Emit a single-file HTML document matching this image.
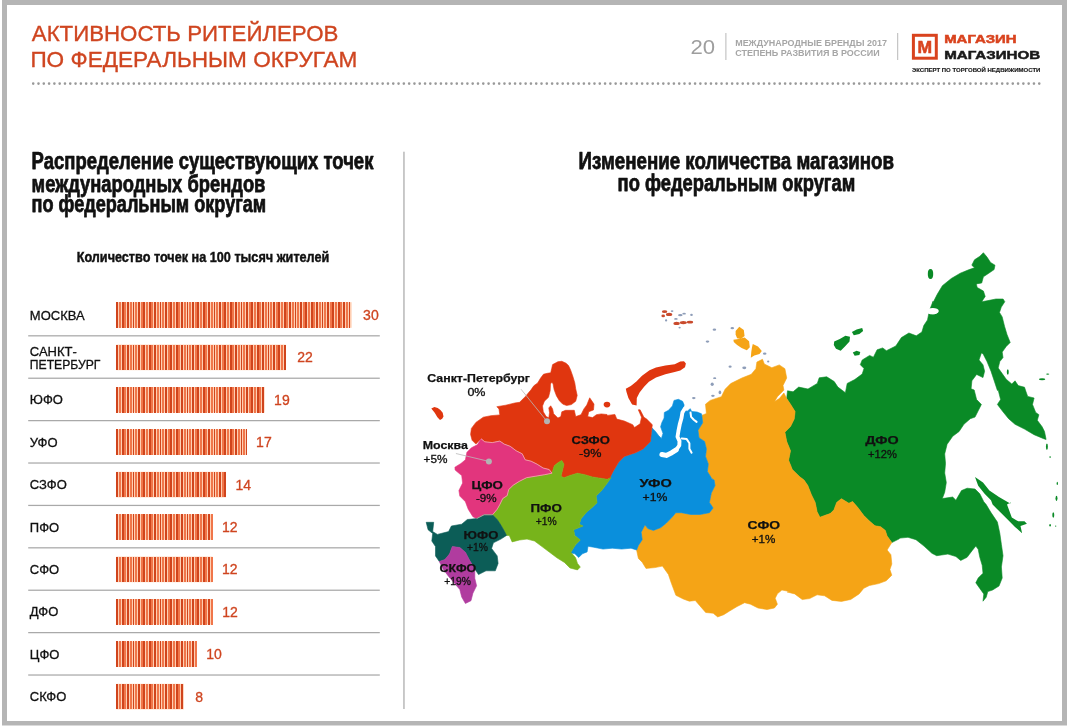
<!DOCTYPE html>
<html lang="ru"><head><meta charset="utf-8"><title>Активность ритейлеров по федеральным округам</title>
<style>
html,body{margin:0;padding:0;background:#fff;}
svg{display:block;font-family:"Liberation Sans","DejaVu Sans",sans-serif;}
</style></head><body>
<svg width="1071" height="727" viewBox="0 0 1071 727">
<rect x="0" y="0" width="1071" height="727" fill="#ffffff"/>
<path d="M2 0H1067V725.5H2Z M7 5V721H1062V5Z" fill="#b5b5b5" fill-rule="evenodd"/>
<text x="31.8" y="40.7" font-size="22.8" fill="#cf4520" font-weight="normal" text-anchor="start" textLength="306.6" lengthAdjust="spacingAndGlyphs" stroke="#cf4520" stroke-width="0.35">АКТИВНОСТЬ РИТЕЙЛЕРОВ</text>
<text x="30.4" y="66.7" font-size="22.8" fill="#cf4520" font-weight="normal" text-anchor="start" textLength="327" lengthAdjust="spacingAndGlyphs" stroke="#cf4520" stroke-width="0.35">ПО ФЕДЕРАЛЬНЫМ ОКРУГАМ</text>
<line x1="33.2" y1="83.6" x2="1041" y2="83.6" stroke="#999999" stroke-width="2.6" stroke-linecap="round" stroke-dasharray="0.01 5.285"/>
<text x="690.4" y="53.8" font-size="20" fill="#9e9e9e" font-weight="normal" text-anchor="start" textLength="24.6" lengthAdjust="spacingAndGlyphs" >20</text>
<rect x="725.4" y="33" width="1" height="27" fill="#b8b8b8"/>
<text x="735.2" y="45.5" font-size="8.9" fill="#a6a6a6" font-weight="bold" text-anchor="start" textLength="151.7" lengthAdjust="spacingAndGlyphs" >МЕЖДУНАРОДНЫЕ БРЕНДЫ 2017</text>
<text x="735.2" y="55.8" font-size="8.9" fill="#a6a6a6" font-weight="bold" text-anchor="start" textLength="144.5" lengthAdjust="spacingAndGlyphs" >СТЕПЕНЬ РАЗВИТИЯ В РОССИИ</text>
<rect x="897.2" y="33" width="1" height="27" fill="#b8b8b8"/>
<rect x="913.4" y="35.3" width="22.9" height="22.9" fill="none" stroke="#d9431e" stroke-width="3"/>
<text x="917.6" y="52.5" font-size="15.6" fill="#d9431e" font-weight="bold" text-anchor="start" textLength="14.6" lengthAdjust="spacingAndGlyphs" stroke="#d9431e" stroke-width="0.5">М</text>
<text x="944.2" y="43.3" font-size="11.3" fill="#d9431e" font-weight="bold" text-anchor="start" textLength="72.4" lengthAdjust="spacingAndGlyphs" stroke="#d9431e" stroke-width="0.5">МАГАЗИН</text>
<text x="944.2" y="59.4" font-size="11.6" fill="#1a1a1a" font-weight="bold" text-anchor="start" textLength="96" lengthAdjust="spacingAndGlyphs" stroke="#1a1a1a" stroke-width="0.5">МАГАЗИНОВ</text>
<text x="912" y="72.1" font-size="5.3" fill="#1a1a1a" font-weight="bold" text-anchor="start" textLength="128.4" lengthAdjust="spacingAndGlyphs" stroke="#1a1a1a" stroke-width="0.15">ЭКСПЕРТ ПО ТОРГОВОЙ НЕДВИЖИМОСТИ</text>
<text x="31.6" y="169.2" font-size="23.2" fill="#111" font-weight="bold" text-anchor="start" textLength="341.8" lengthAdjust="spacingAndGlyphs" stroke="#111" stroke-width="0.75" stroke-linejoin="round">Распределение существующих точек</text>
<text x="31.6" y="191.6" font-size="23.2" fill="#111" font-weight="bold" text-anchor="start" textLength="233.8" lengthAdjust="spacingAndGlyphs" stroke="#111" stroke-width="0.75" stroke-linejoin="round">международных брендов</text>
<text x="31.6" y="212.4" font-size="23.2" fill="#111" font-weight="bold" text-anchor="start" textLength="234.6" lengthAdjust="spacingAndGlyphs" stroke="#111" stroke-width="0.75" stroke-linejoin="round">по федеральным округам</text>
<text x="76.7" y="261.5" font-size="14.6" fill="#111" font-weight="bold" text-anchor="start" textLength="252.6" lengthAdjust="spacingAndGlyphs" stroke="#111" stroke-width="0.45">Количество точек на 100 тысяч жителей</text>
<defs><pattern id="st" width="5.4" height="30" patternUnits="userSpaceOnUse" x="116.3"><rect width="5.4" height="30" fill="#ffc7ab"/><rect width="2.2" height="30" fill="#d6421a"/><rect x="2.7" width="2.2" height="30" fill="#ec6a3c"/></pattern></defs>
<rect x="116.3" y="302.2" width="235.3" height="25.6" fill="#ffcfb3"/>
<path d="M116.30 302.2h1.95v25.6h-1.95zM121.70 302.2h1.95v25.6h-1.95zM127.10 302.2h1.95v25.6h-1.95zM132.50 302.2h1.95v25.6h-1.95zM137.90 302.2h1.95v25.6h-1.95zM143.30 302.2h1.95v25.6h-1.95zM148.70 302.2h1.95v25.6h-1.95zM154.10 302.2h1.95v25.6h-1.95zM159.50 302.2h1.95v25.6h-1.95zM164.90 302.2h1.95v25.6h-1.95zM170.30 302.2h1.95v25.6h-1.95zM175.70 302.2h1.95v25.6h-1.95zM181.10 302.2h1.95v25.6h-1.95zM186.50 302.2h1.95v25.6h-1.95zM191.90 302.2h1.95v25.6h-1.95zM197.30 302.2h1.95v25.6h-1.95zM202.70 302.2h1.95v25.6h-1.95zM208.10 302.2h1.95v25.6h-1.95zM213.50 302.2h1.95v25.6h-1.95zM218.90 302.2h1.95v25.6h-1.95zM224.30 302.2h1.95v25.6h-1.95zM229.70 302.2h1.95v25.6h-1.95zM235.10 302.2h1.95v25.6h-1.95zM240.50 302.2h1.95v25.6h-1.95zM245.90 302.2h1.95v25.6h-1.95zM251.30 302.2h1.95v25.6h-1.95zM256.70 302.2h1.95v25.6h-1.95zM262.10 302.2h1.95v25.6h-1.95zM267.50 302.2h1.95v25.6h-1.95zM272.90 302.2h1.95v25.6h-1.95zM278.30 302.2h1.95v25.6h-1.95zM283.70 302.2h1.95v25.6h-1.95zM289.10 302.2h1.95v25.6h-1.95zM294.50 302.2h1.95v25.6h-1.95zM299.90 302.2h1.95v25.6h-1.95zM305.30 302.2h1.95v25.6h-1.95zM310.70 302.2h1.95v25.6h-1.95zM316.10 302.2h1.95v25.6h-1.95zM321.50 302.2h1.95v25.6h-1.95zM326.90 302.2h1.95v25.6h-1.95zM332.30 302.2h1.95v25.6h-1.95zM337.70 302.2h1.95v25.6h-1.95zM343.10 302.2h1.95v25.6h-1.95zM348.50 302.2h1.95v25.6h-1.95z" fill="#d0441c" shape-rendering="crispEdges"/>
<path d="M119.00 302.2h1.95v25.6h-1.95zM124.40 302.2h1.95v25.6h-1.95zM129.80 302.2h1.95v25.6h-1.95zM135.20 302.2h1.95v25.6h-1.95zM140.60 302.2h1.95v25.6h-1.95zM146.00 302.2h1.95v25.6h-1.95zM151.40 302.2h1.95v25.6h-1.95zM156.80 302.2h1.95v25.6h-1.95zM162.20 302.2h1.95v25.6h-1.95zM167.60 302.2h1.95v25.6h-1.95zM173.00 302.2h1.95v25.6h-1.95zM178.40 302.2h1.95v25.6h-1.95zM183.80 302.2h1.95v25.6h-1.95zM189.20 302.2h1.95v25.6h-1.95zM194.60 302.2h1.95v25.6h-1.95zM200.00 302.2h1.95v25.6h-1.95zM205.40 302.2h1.95v25.6h-1.95zM210.80 302.2h1.95v25.6h-1.95zM216.20 302.2h1.95v25.6h-1.95zM221.60 302.2h1.95v25.6h-1.95zM227.00 302.2h1.95v25.6h-1.95zM232.40 302.2h1.95v25.6h-1.95zM237.80 302.2h1.95v25.6h-1.95zM243.20 302.2h1.95v25.6h-1.95zM248.60 302.2h1.95v25.6h-1.95zM254.00 302.2h1.95v25.6h-1.95zM259.40 302.2h1.95v25.6h-1.95zM264.80 302.2h1.95v25.6h-1.95zM270.20 302.2h1.95v25.6h-1.95zM275.60 302.2h1.95v25.6h-1.95zM281.00 302.2h1.95v25.6h-1.95zM286.40 302.2h1.95v25.6h-1.95zM291.80 302.2h1.95v25.6h-1.95zM297.20 302.2h1.95v25.6h-1.95zM302.60 302.2h1.95v25.6h-1.95zM308.00 302.2h1.95v25.6h-1.95zM313.40 302.2h1.95v25.6h-1.95zM318.80 302.2h1.95v25.6h-1.95zM324.20 302.2h1.95v25.6h-1.95zM329.60 302.2h1.95v25.6h-1.95zM335.00 302.2h1.95v25.6h-1.95zM340.40 302.2h1.95v25.6h-1.95zM345.80 302.2h1.95v25.6h-1.95z" fill="#f0764a" shape-rendering="crispEdges"/>
<rect x="28.2" y="335.2" width="351.6" height="1.25" fill="#a9a9a9"/>
<text x="29.8" y="319.6" font-size="13" fill="#111" font-weight="normal" text-anchor="start" stroke="#111" stroke-width="0.3">МОСКВА</text>
<text x="363.1" y="320" font-size="14" fill="#cf4520" font-weight="normal" text-anchor="start" stroke="#cf4520" stroke-width="0.3">30</text>
<rect x="116.3" y="344.6" width="169.5" height="25.6" fill="#ffcfb3"/>
<path d="M116.30 344.6h1.95v25.6h-1.95zM121.70 344.6h1.95v25.6h-1.95zM127.10 344.6h1.95v25.6h-1.95zM132.50 344.6h1.95v25.6h-1.95zM137.90 344.6h1.95v25.6h-1.95zM143.30 344.6h1.95v25.6h-1.95zM148.70 344.6h1.95v25.6h-1.95zM154.10 344.6h1.95v25.6h-1.95zM159.50 344.6h1.95v25.6h-1.95zM164.90 344.6h1.95v25.6h-1.95zM170.30 344.6h1.95v25.6h-1.95zM175.70 344.6h1.95v25.6h-1.95zM181.10 344.6h1.95v25.6h-1.95zM186.50 344.6h1.95v25.6h-1.95zM191.90 344.6h1.95v25.6h-1.95zM197.30 344.6h1.95v25.6h-1.95zM202.70 344.6h1.95v25.6h-1.95zM208.10 344.6h1.95v25.6h-1.95zM213.50 344.6h1.95v25.6h-1.95zM218.90 344.6h1.95v25.6h-1.95zM224.30 344.6h1.95v25.6h-1.95zM229.70 344.6h1.95v25.6h-1.95zM235.10 344.6h1.95v25.6h-1.95zM240.50 344.6h1.95v25.6h-1.95zM245.90 344.6h1.95v25.6h-1.95zM251.30 344.6h1.95v25.6h-1.95zM256.70 344.6h1.95v25.6h-1.95zM262.10 344.6h1.95v25.6h-1.95zM267.50 344.6h1.95v25.6h-1.95zM272.90 344.6h1.95v25.6h-1.95zM278.30 344.6h1.95v25.6h-1.95zM283.70 344.6h1.95v25.6h-1.95z" fill="#d0441c" shape-rendering="crispEdges"/>
<path d="M119.00 344.6h1.95v25.6h-1.95zM124.40 344.6h1.95v25.6h-1.95zM129.80 344.6h1.95v25.6h-1.95zM135.20 344.6h1.95v25.6h-1.95zM140.60 344.6h1.95v25.6h-1.95zM146.00 344.6h1.95v25.6h-1.95zM151.40 344.6h1.95v25.6h-1.95zM156.80 344.6h1.95v25.6h-1.95zM162.20 344.6h1.95v25.6h-1.95zM167.60 344.6h1.95v25.6h-1.95zM173.00 344.6h1.95v25.6h-1.95zM178.40 344.6h1.95v25.6h-1.95zM183.80 344.6h1.95v25.6h-1.95zM189.20 344.6h1.95v25.6h-1.95zM194.60 344.6h1.95v25.6h-1.95zM200.00 344.6h1.95v25.6h-1.95zM205.40 344.6h1.95v25.6h-1.95zM210.80 344.6h1.95v25.6h-1.95zM216.20 344.6h1.95v25.6h-1.95zM221.60 344.6h1.95v25.6h-1.95zM227.00 344.6h1.95v25.6h-1.95zM232.40 344.6h1.95v25.6h-1.95zM237.80 344.6h1.95v25.6h-1.95zM243.20 344.6h1.95v25.6h-1.95zM248.60 344.6h1.95v25.6h-1.95zM254.00 344.6h1.95v25.6h-1.95zM259.40 344.6h1.95v25.6h-1.95zM264.80 344.6h1.95v25.6h-1.95zM270.20 344.6h1.95v25.6h-1.95zM275.60 344.6h1.95v25.6h-1.95zM281.00 344.6h1.95v25.6h-1.95z" fill="#f0764a" shape-rendering="crispEdges"/>
<rect x="28.2" y="377.6" width="351.6" height="1.25" fill="#a9a9a9"/>
<text x="29.8" y="356" font-size="13" fill="#111" font-weight="normal" text-anchor="start" stroke="#111" stroke-width="0.3">САНКТ-</text>
<text x="29.8" y="369" font-size="13" fill="#111" font-weight="normal" text-anchor="start" textLength="70.6" lengthAdjust="spacingAndGlyphs" stroke="#111" stroke-width="0.3">ПЕТЕРБУРГ</text>
<text x="297.3" y="362.4" font-size="14" fill="#cf4520" font-weight="normal" text-anchor="start" stroke="#cf4520" stroke-width="0.3">22</text>
<rect x="116.3" y="387" width="148.3" height="25.6" fill="#ffcfb3"/>
<path d="M116.30 387h1.95v25.6h-1.95zM121.70 387h1.95v25.6h-1.95zM127.10 387h1.95v25.6h-1.95zM132.50 387h1.95v25.6h-1.95zM137.90 387h1.95v25.6h-1.95zM143.30 387h1.95v25.6h-1.95zM148.70 387h1.95v25.6h-1.95zM154.10 387h1.95v25.6h-1.95zM159.50 387h1.95v25.6h-1.95zM164.90 387h1.95v25.6h-1.95zM170.30 387h1.95v25.6h-1.95zM175.70 387h1.95v25.6h-1.95zM181.10 387h1.95v25.6h-1.95zM186.50 387h1.95v25.6h-1.95zM191.90 387h1.95v25.6h-1.95zM197.30 387h1.95v25.6h-1.95zM202.70 387h1.95v25.6h-1.95zM208.10 387h1.95v25.6h-1.95zM213.50 387h1.95v25.6h-1.95zM218.90 387h1.95v25.6h-1.95zM224.30 387h1.95v25.6h-1.95zM229.70 387h1.95v25.6h-1.95zM235.10 387h1.95v25.6h-1.95zM240.50 387h1.95v25.6h-1.95zM245.90 387h1.95v25.6h-1.95zM251.30 387h1.95v25.6h-1.95zM256.70 387h1.95v25.6h-1.95zM262.10 387h1.95v25.6h-1.95z" fill="#d0441c" shape-rendering="crispEdges"/>
<path d="M119.00 387h1.95v25.6h-1.95zM124.40 387h1.95v25.6h-1.95zM129.80 387h1.95v25.6h-1.95zM135.20 387h1.95v25.6h-1.95zM140.60 387h1.95v25.6h-1.95zM146.00 387h1.95v25.6h-1.95zM151.40 387h1.95v25.6h-1.95zM156.80 387h1.95v25.6h-1.95zM162.20 387h1.95v25.6h-1.95zM167.60 387h1.95v25.6h-1.95zM173.00 387h1.95v25.6h-1.95zM178.40 387h1.95v25.6h-1.95zM183.80 387h1.95v25.6h-1.95zM189.20 387h1.95v25.6h-1.95zM194.60 387h1.95v25.6h-1.95zM200.00 387h1.95v25.6h-1.95zM205.40 387h1.95v25.6h-1.95zM210.80 387h1.95v25.6h-1.95zM216.20 387h1.95v25.6h-1.95zM221.60 387h1.95v25.6h-1.95zM227.00 387h1.95v25.6h-1.95zM232.40 387h1.95v25.6h-1.95zM237.80 387h1.95v25.6h-1.95zM243.20 387h1.95v25.6h-1.95zM248.60 387h1.95v25.6h-1.95zM254.00 387h1.95v25.6h-1.95zM259.40 387h1.95v25.6h-1.95z" fill="#f0764a" shape-rendering="crispEdges"/>
<rect x="28.2" y="420" width="351.6" height="1.25" fill="#a9a9a9"/>
<text x="29.8" y="404.4" font-size="13" fill="#111" font-weight="normal" text-anchor="start" stroke="#111" stroke-width="0.3">ЮФО</text>
<text x="274.1" y="404.8" font-size="14" fill="#cf4520" font-weight="normal" text-anchor="start" stroke="#cf4520" stroke-width="0.3">19</text>
<rect x="116.3" y="429.4" width="130.3" height="25.6" fill="#ffcfb3"/>
<path d="M116.30 429.4h1.95v25.6h-1.95zM121.70 429.4h1.95v25.6h-1.95zM127.10 429.4h1.95v25.6h-1.95zM132.50 429.4h1.95v25.6h-1.95zM137.90 429.4h1.95v25.6h-1.95zM143.30 429.4h1.95v25.6h-1.95zM148.70 429.4h1.95v25.6h-1.95zM154.10 429.4h1.95v25.6h-1.95zM159.50 429.4h1.95v25.6h-1.95zM164.90 429.4h1.95v25.6h-1.95zM170.30 429.4h1.95v25.6h-1.95zM175.70 429.4h1.95v25.6h-1.95zM181.10 429.4h1.95v25.6h-1.95zM186.50 429.4h1.95v25.6h-1.95zM191.90 429.4h1.95v25.6h-1.95zM197.30 429.4h1.95v25.6h-1.95zM202.70 429.4h1.95v25.6h-1.95zM208.10 429.4h1.95v25.6h-1.95zM213.50 429.4h1.95v25.6h-1.95zM218.90 429.4h1.95v25.6h-1.95zM224.30 429.4h1.95v25.6h-1.95zM229.70 429.4h1.95v25.6h-1.95zM235.10 429.4h1.95v25.6h-1.95zM240.50 429.4h1.95v25.6h-1.95zM245.90 429.4h0.70v25.6h-0.70z" fill="#d0441c" shape-rendering="crispEdges"/>
<path d="M119.00 429.4h1.95v25.6h-1.95zM124.40 429.4h1.95v25.6h-1.95zM129.80 429.4h1.95v25.6h-1.95zM135.20 429.4h1.95v25.6h-1.95zM140.60 429.4h1.95v25.6h-1.95zM146.00 429.4h1.95v25.6h-1.95zM151.40 429.4h1.95v25.6h-1.95zM156.80 429.4h1.95v25.6h-1.95zM162.20 429.4h1.95v25.6h-1.95zM167.60 429.4h1.95v25.6h-1.95zM173.00 429.4h1.95v25.6h-1.95zM178.40 429.4h1.95v25.6h-1.95zM183.80 429.4h1.95v25.6h-1.95zM189.20 429.4h1.95v25.6h-1.95zM194.60 429.4h1.95v25.6h-1.95zM200.00 429.4h1.95v25.6h-1.95zM205.40 429.4h1.95v25.6h-1.95zM210.80 429.4h1.95v25.6h-1.95zM216.20 429.4h1.95v25.6h-1.95zM221.60 429.4h1.95v25.6h-1.95zM227.00 429.4h1.95v25.6h-1.95zM232.40 429.4h1.95v25.6h-1.95zM237.80 429.4h1.95v25.6h-1.95zM243.20 429.4h1.95v25.6h-1.95z" fill="#f0764a" shape-rendering="crispEdges"/>
<rect x="28.2" y="462.4" width="351.6" height="1.25" fill="#a9a9a9"/>
<text x="29.8" y="446.8" font-size="13" fill="#111" font-weight="normal" text-anchor="start" stroke="#111" stroke-width="0.3">УФО</text>
<text x="256.1" y="447.2" font-size="14" fill="#cf4520" font-weight="normal" text-anchor="start" stroke="#cf4520" stroke-width="0.3">17</text>
<rect x="116.3" y="471.8" width="109.7" height="25.6" fill="#ffcfb3"/>
<path d="M116.30 471.8h1.95v25.6h-1.95zM121.70 471.8h1.95v25.6h-1.95zM127.10 471.8h1.95v25.6h-1.95zM132.50 471.8h1.95v25.6h-1.95zM137.90 471.8h1.95v25.6h-1.95zM143.30 471.8h1.95v25.6h-1.95zM148.70 471.8h1.95v25.6h-1.95zM154.10 471.8h1.95v25.6h-1.95zM159.50 471.8h1.95v25.6h-1.95zM164.90 471.8h1.95v25.6h-1.95zM170.30 471.8h1.95v25.6h-1.95zM175.70 471.8h1.95v25.6h-1.95zM181.10 471.8h1.95v25.6h-1.95zM186.50 471.8h1.95v25.6h-1.95zM191.90 471.8h1.95v25.6h-1.95zM197.30 471.8h1.95v25.6h-1.95zM202.70 471.8h1.95v25.6h-1.95zM208.10 471.8h1.95v25.6h-1.95zM213.50 471.8h1.95v25.6h-1.95zM218.90 471.8h1.95v25.6h-1.95zM224.30 471.8h1.70v25.6h-1.70z" fill="#d0441c" shape-rendering="crispEdges"/>
<path d="M119.00 471.8h1.95v25.6h-1.95zM124.40 471.8h1.95v25.6h-1.95zM129.80 471.8h1.95v25.6h-1.95zM135.20 471.8h1.95v25.6h-1.95zM140.60 471.8h1.95v25.6h-1.95zM146.00 471.8h1.95v25.6h-1.95zM151.40 471.8h1.95v25.6h-1.95zM156.80 471.8h1.95v25.6h-1.95zM162.20 471.8h1.95v25.6h-1.95zM167.60 471.8h1.95v25.6h-1.95zM173.00 471.8h1.95v25.6h-1.95zM178.40 471.8h1.95v25.6h-1.95zM183.80 471.8h1.95v25.6h-1.95zM189.20 471.8h1.95v25.6h-1.95zM194.60 471.8h1.95v25.6h-1.95zM200.00 471.8h1.95v25.6h-1.95zM205.40 471.8h1.95v25.6h-1.95zM210.80 471.8h1.95v25.6h-1.95zM216.20 471.8h1.95v25.6h-1.95zM221.60 471.8h1.95v25.6h-1.95z" fill="#f0764a" shape-rendering="crispEdges"/>
<rect x="28.2" y="504.8" width="351.6" height="1.25" fill="#a9a9a9"/>
<text x="29.8" y="489.2" font-size="13" fill="#111" font-weight="normal" text-anchor="start" stroke="#111" stroke-width="0.3">СЗФО</text>
<text x="235.5" y="489.6" font-size="14" fill="#cf4520" font-weight="normal" text-anchor="start" stroke="#cf4520" stroke-width="0.3">14</text>
<rect x="116.3" y="514.2" width="96.2" height="25.6" fill="#ffcfb3"/>
<path d="M116.30 514.2h1.95v25.6h-1.95zM121.70 514.2h1.95v25.6h-1.95zM127.10 514.2h1.95v25.6h-1.95zM132.50 514.2h1.95v25.6h-1.95zM137.90 514.2h1.95v25.6h-1.95zM143.30 514.2h1.95v25.6h-1.95zM148.70 514.2h1.95v25.6h-1.95zM154.10 514.2h1.95v25.6h-1.95zM159.50 514.2h1.95v25.6h-1.95zM164.90 514.2h1.95v25.6h-1.95zM170.30 514.2h1.95v25.6h-1.95zM175.70 514.2h1.95v25.6h-1.95zM181.10 514.2h1.95v25.6h-1.95zM186.50 514.2h1.95v25.6h-1.95zM191.90 514.2h1.95v25.6h-1.95zM197.30 514.2h1.95v25.6h-1.95zM202.70 514.2h1.95v25.6h-1.95zM208.10 514.2h1.95v25.6h-1.95z" fill="#d0441c" shape-rendering="crispEdges"/>
<path d="M119.00 514.2h1.95v25.6h-1.95zM124.40 514.2h1.95v25.6h-1.95zM129.80 514.2h1.95v25.6h-1.95zM135.20 514.2h1.95v25.6h-1.95zM140.60 514.2h1.95v25.6h-1.95zM146.00 514.2h1.95v25.6h-1.95zM151.40 514.2h1.95v25.6h-1.95zM156.80 514.2h1.95v25.6h-1.95zM162.20 514.2h1.95v25.6h-1.95zM167.60 514.2h1.95v25.6h-1.95zM173.00 514.2h1.95v25.6h-1.95zM178.40 514.2h1.95v25.6h-1.95zM183.80 514.2h1.95v25.6h-1.95zM189.20 514.2h1.95v25.6h-1.95zM194.60 514.2h1.95v25.6h-1.95zM200.00 514.2h1.95v25.6h-1.95zM205.40 514.2h1.95v25.6h-1.95zM210.80 514.2h1.70v25.6h-1.70z" fill="#f0764a" shape-rendering="crispEdges"/>
<rect x="28.2" y="547.2" width="351.6" height="1.25" fill="#a9a9a9"/>
<text x="29.8" y="531.6" font-size="13" fill="#111" font-weight="normal" text-anchor="start" stroke="#111" stroke-width="0.3">ПФО</text>
<text x="222" y="532" font-size="14" fill="#cf4520" font-weight="normal" text-anchor="start" stroke="#cf4520" stroke-width="0.3">12</text>
<rect x="116.3" y="556.6" width="96.2" height="25.6" fill="#ffcfb3"/>
<path d="M116.30 556.6h1.95v25.6h-1.95zM121.70 556.6h1.95v25.6h-1.95zM127.10 556.6h1.95v25.6h-1.95zM132.50 556.6h1.95v25.6h-1.95zM137.90 556.6h1.95v25.6h-1.95zM143.30 556.6h1.95v25.6h-1.95zM148.70 556.6h1.95v25.6h-1.95zM154.10 556.6h1.95v25.6h-1.95zM159.50 556.6h1.95v25.6h-1.95zM164.90 556.6h1.95v25.6h-1.95zM170.30 556.6h1.95v25.6h-1.95zM175.70 556.6h1.95v25.6h-1.95zM181.10 556.6h1.95v25.6h-1.95zM186.50 556.6h1.95v25.6h-1.95zM191.90 556.6h1.95v25.6h-1.95zM197.30 556.6h1.95v25.6h-1.95zM202.70 556.6h1.95v25.6h-1.95zM208.10 556.6h1.95v25.6h-1.95z" fill="#d0441c" shape-rendering="crispEdges"/>
<path d="M119.00 556.6h1.95v25.6h-1.95zM124.40 556.6h1.95v25.6h-1.95zM129.80 556.6h1.95v25.6h-1.95zM135.20 556.6h1.95v25.6h-1.95zM140.60 556.6h1.95v25.6h-1.95zM146.00 556.6h1.95v25.6h-1.95zM151.40 556.6h1.95v25.6h-1.95zM156.80 556.6h1.95v25.6h-1.95zM162.20 556.6h1.95v25.6h-1.95zM167.60 556.6h1.95v25.6h-1.95zM173.00 556.6h1.95v25.6h-1.95zM178.40 556.6h1.95v25.6h-1.95zM183.80 556.6h1.95v25.6h-1.95zM189.20 556.6h1.95v25.6h-1.95zM194.60 556.6h1.95v25.6h-1.95zM200.00 556.6h1.95v25.6h-1.95zM205.40 556.6h1.95v25.6h-1.95zM210.80 556.6h1.70v25.6h-1.70z" fill="#f0764a" shape-rendering="crispEdges"/>
<rect x="28.2" y="589.6" width="351.6" height="1.25" fill="#a9a9a9"/>
<text x="29.8" y="574" font-size="13" fill="#111" font-weight="normal" text-anchor="start" stroke="#111" stroke-width="0.3">СФО</text>
<text x="222" y="574.4" font-size="14" fill="#cf4520" font-weight="normal" text-anchor="start" stroke="#cf4520" stroke-width="0.3">12</text>
<rect x="116.3" y="599" width="96.5" height="25.6" fill="#ffcfb3"/>
<path d="M116.30 599h1.95v25.6h-1.95zM121.70 599h1.95v25.6h-1.95zM127.10 599h1.95v25.6h-1.95zM132.50 599h1.95v25.6h-1.95zM137.90 599h1.95v25.6h-1.95zM143.30 599h1.95v25.6h-1.95zM148.70 599h1.95v25.6h-1.95zM154.10 599h1.95v25.6h-1.95zM159.50 599h1.95v25.6h-1.95zM164.90 599h1.95v25.6h-1.95zM170.30 599h1.95v25.6h-1.95zM175.70 599h1.95v25.6h-1.95zM181.10 599h1.95v25.6h-1.95zM186.50 599h1.95v25.6h-1.95zM191.90 599h1.95v25.6h-1.95zM197.30 599h1.95v25.6h-1.95zM202.70 599h1.95v25.6h-1.95zM208.10 599h1.95v25.6h-1.95z" fill="#d0441c" shape-rendering="crispEdges"/>
<path d="M119.00 599h1.95v25.6h-1.95zM124.40 599h1.95v25.6h-1.95zM129.80 599h1.95v25.6h-1.95zM135.20 599h1.95v25.6h-1.95zM140.60 599h1.95v25.6h-1.95zM146.00 599h1.95v25.6h-1.95zM151.40 599h1.95v25.6h-1.95zM156.80 599h1.95v25.6h-1.95zM162.20 599h1.95v25.6h-1.95zM167.60 599h1.95v25.6h-1.95zM173.00 599h1.95v25.6h-1.95zM178.40 599h1.95v25.6h-1.95zM183.80 599h1.95v25.6h-1.95zM189.20 599h1.95v25.6h-1.95zM194.60 599h1.95v25.6h-1.95zM200.00 599h1.95v25.6h-1.95zM205.40 599h1.95v25.6h-1.95zM210.80 599h1.95v25.6h-1.95z" fill="#f0764a" shape-rendering="crispEdges"/>
<rect x="28.2" y="632" width="351.6" height="1.25" fill="#a9a9a9"/>
<text x="29.8" y="616.4" font-size="13" fill="#111" font-weight="normal" text-anchor="start" stroke="#111" stroke-width="0.3">ДФО</text>
<text x="222.3" y="616.8" font-size="14" fill="#cf4520" font-weight="normal" text-anchor="start" stroke="#cf4520" stroke-width="0.3">12</text>
<rect x="116.3" y="641.4" width="80.5" height="25.6" fill="#ffcfb3"/>
<path d="M116.30 641.4h1.95v25.6h-1.95zM121.70 641.4h1.95v25.6h-1.95zM127.10 641.4h1.95v25.6h-1.95zM132.50 641.4h1.95v25.6h-1.95zM137.90 641.4h1.95v25.6h-1.95zM143.30 641.4h1.95v25.6h-1.95zM148.70 641.4h1.95v25.6h-1.95zM154.10 641.4h1.95v25.6h-1.95zM159.50 641.4h1.95v25.6h-1.95zM164.90 641.4h1.95v25.6h-1.95zM170.30 641.4h1.95v25.6h-1.95zM175.70 641.4h1.95v25.6h-1.95zM181.10 641.4h1.95v25.6h-1.95zM186.50 641.4h1.95v25.6h-1.95zM191.90 641.4h1.95v25.6h-1.95z" fill="#d0441c" shape-rendering="crispEdges"/>
<path d="M119.00 641.4h1.95v25.6h-1.95zM124.40 641.4h1.95v25.6h-1.95zM129.80 641.4h1.95v25.6h-1.95zM135.20 641.4h1.95v25.6h-1.95zM140.60 641.4h1.95v25.6h-1.95zM146.00 641.4h1.95v25.6h-1.95zM151.40 641.4h1.95v25.6h-1.95zM156.80 641.4h1.95v25.6h-1.95zM162.20 641.4h1.95v25.6h-1.95zM167.60 641.4h1.95v25.6h-1.95zM173.00 641.4h1.95v25.6h-1.95zM178.40 641.4h1.95v25.6h-1.95zM183.80 641.4h1.95v25.6h-1.95zM189.20 641.4h1.95v25.6h-1.95zM194.60 641.4h1.95v25.6h-1.95z" fill="#f0764a" shape-rendering="crispEdges"/>
<rect x="28.2" y="674.4" width="351.6" height="1.25" fill="#a9a9a9"/>
<text x="29.8" y="658.8" font-size="13" fill="#111" font-weight="normal" text-anchor="start" stroke="#111" stroke-width="0.3">ЦФО</text>
<text x="206.3" y="659.2" font-size="14" fill="#cf4520" font-weight="normal" text-anchor="start" stroke="#cf4520" stroke-width="0.3">10</text>
<rect x="116.3" y="683.8" width="67.5" height="25.6" fill="#ffcfb3"/>
<path d="M116.30 683.8h1.95v25.6h-1.95zM121.70 683.8h1.95v25.6h-1.95zM127.10 683.8h1.95v25.6h-1.95zM132.50 683.8h1.95v25.6h-1.95zM137.90 683.8h1.95v25.6h-1.95zM143.30 683.8h1.95v25.6h-1.95zM148.70 683.8h1.95v25.6h-1.95zM154.10 683.8h1.95v25.6h-1.95zM159.50 683.8h1.95v25.6h-1.95zM164.90 683.8h1.95v25.6h-1.95zM170.30 683.8h1.95v25.6h-1.95zM175.70 683.8h1.95v25.6h-1.95zM181.10 683.8h1.95v25.6h-1.95z" fill="#d0441c" shape-rendering="crispEdges"/>
<path d="M119.00 683.8h1.95v25.6h-1.95zM124.40 683.8h1.95v25.6h-1.95zM129.80 683.8h1.95v25.6h-1.95zM135.20 683.8h1.95v25.6h-1.95zM140.60 683.8h1.95v25.6h-1.95zM146.00 683.8h1.95v25.6h-1.95zM151.40 683.8h1.95v25.6h-1.95zM156.80 683.8h1.95v25.6h-1.95zM162.20 683.8h1.95v25.6h-1.95zM167.60 683.8h1.95v25.6h-1.95zM173.00 683.8h1.95v25.6h-1.95zM178.40 683.8h1.95v25.6h-1.95z" fill="#f0764a" shape-rendering="crispEdges"/>
<text x="29.8" y="701.2" font-size="13" fill="#111" font-weight="normal" text-anchor="start" stroke="#111" stroke-width="0.3">СКФО</text>
<text x="195.3" y="701.6" font-size="14" fill="#cf4520" font-weight="normal" text-anchor="start" stroke="#cf4520" stroke-width="0.3">8</text>
<rect x="403.15" y="151.7" width="1.6" height="557.3" fill="#bdbdbd"/>
<text x="578.6" y="169.2" font-size="23.2" fill="#111" font-weight="bold" text-anchor="start" textLength="315.4" lengthAdjust="spacingAndGlyphs" stroke="#111" stroke-width="0.75" stroke-linejoin="round">Изменение количества магазинов</text>
<text x="617.6" y="191.4" font-size="23.2" fill="#111" font-weight="bold" text-anchor="start" textLength="237.6" lengthAdjust="spacingAndGlyphs" stroke="#111" stroke-width="0.75" stroke-linejoin="round">по федеральным округам</text>
<g stroke-linejoin="round">
<path d="M787.5 390.8 L793.1 391.8 L798.7 387.1 L808 389 L817.3 383.4 L819.2 377.8 L826.7 376.8 L834.2 381.5 L837.9 387.1 L845.4 392.7 L847.2 383.4 L854.7 379.6 L862.2 374 L864 368.4 L860.3 364.7 L862.2 360 L869.6 355.4 L873.4 357.2 L877.1 349.8 L882.7 347.9 L886.4 350.7 L895.8 346 L901.4 337.6 L908.9 333 L916.3 335.8 L921.9 332 L923.8 325.5 L927.5 319.9 L929.4 310.5 L933.1 301.2 L932.6 303.5 L937.1 294.6 L942.4 285.7 L951.3 278.5 L960.3 273.2 L969.2 269.6 L974.5 267.8 L971.8 265.2 L974.5 259.8 L979.9 256.2 L983.4 252.7 L987 257.1 L990.6 262.5 L995 265.2 L994.1 269.6 L988.8 273.2 L983.4 276.8 L981.7 283 L976.3 283.9 L977.2 287.5 L983.4 291 L985.2 296.4 L981.7 301.7 L987 300.8 L995.9 299 L1003.1 299 L1004.8 301.7 L1001.3 307.1 L999.5 312.4 L1002.2 316.9 L1004.6 326.5 L1007 334.5 L1010.2 342.5 L1006.2 346.5 L1002.2 352.1 L1003 357.6 L999.8 361.6 L998.2 368 L1002.2 373.6 L1006.2 379.2 L1011.8 384 L1015 380.8 L1018.2 385.6 L1024.5 387.2 L1026.1 392 L1027.7 396.4 L1034.1 398 L1032.5 404.4 L1035.7 412.4 L1038.9 414.7 L1037.3 420.3 L1042.1 426.7 L1044.5 431.5 L1046.1 439.5 L1043.7 438.7 L1034.1 434.7 L1024.5 429.1 L1015 424.3 L1008.6 418.7 L1002.2 410.8 L997.4 404.4 L1000.6 399.6 L998.2 390 L997.4 390.4 L994.2 380.8 L991 371.2 L987 361.6 L983 353.7 L981.4 352.9 L979 360 L983 364.8 L984.6 371.2 L983 377.6 L976.6 374.4 L971.9 380.8 L971.1 388.8 L974.2 390 L976.6 399.6 L981.4 404.4 L978.2 410.8 L975 417.1 L970.3 418.7 L963.9 424.3 L959.1 431.5 L952.7 436.3 L947.1 444.3 L944.7 453.9 L945.5 463.4 L944.7 473 L946.3 482.6 L944.7 492.2 L942.3 498.6 L952.7 497 L955.9 500.2 L961.5 490.6 L967.1 488.2 L975 489 L979.8 493.8 L983.8 501.8 L986.2 504.6 L991 512.6 L997.4 522.1 L999.8 533.3 L1001.4 544.5 L1003 555.7 L1001.4 566.9 L1002.2 578 L999 586 L992.6 590 L987.8 591.6 L986.2 597.2 L983 601.2 L983.8 594 L979.8 588.4 L975.8 582.8 L978.2 578 L983 573.2 L982.2 565.3 L979.8 557.3 L978.2 549.3 L975.8 546.1 L971.9 550.9 L967.1 557.3 L960.7 560.5 L955.9 556.5 L947.9 554.1 L936.7 555.7 L931.9 553.3 L924 546.1 L916 539.7 L908 537.3 L900 538.1 L899.3 538.8 L891.8 542.6 L887.1 536 L885.3 530.4 L880.6 526.7 L875 525.8 L869.4 521.1 L863.8 515.5 L858.2 508 L852.6 501.5 L848.9 503.3 L841.4 498.7 L836.7 502.4 L833.9 509.9 L830.2 513.6 L824.6 515.5 L819.9 517.3 L817.1 511.7 L815.2 502.4 L811.5 494.9 L807.8 485.6 L804 480 L800 477 L792.3 469.5 L788.6 460.2 L790.5 450.8 L786.7 441.5 L784.9 432.2 L790.5 426.6 L794.2 419.1 L795.1 411.6 L790.5 404.2 L786.7 398.6Z" fill="#0a8a26" stroke="#0a8a26" stroke-width="0.6"/>
<path d="M701.8 415.4 L706.4 413.5 L705.5 404.2 L710.2 400.4 L721.4 396.7 L725.1 389.2 L730.7 383.6 L741.9 378 L751.3 374.3 L755.9 368.7 L756.9 362.1 L762.5 359.3 L764.3 364 L771.8 367.7 L779.3 364.9 L784.9 368.7 L786.7 378 L783 385.5 L783.9 390.1 L777.4 396.7 L774.6 401.4 L779.3 398.6 L783.9 393 L786.7 398.6 L790.5 404.2 L795.1 411.6 L794.2 419.1 L790.5 426.6 L784.9 432.2 L786.7 441.5 L790.5 450.8 L788.6 460.2 L792.3 469.5 L800 477 L804 480 L807.8 485.6 L811.5 494.9 L815.2 502.4 L817.1 511.7 L819.9 517.3 L824.6 515.5 L830.2 513.6 L833.9 509.9 L836.7 502.4 L841.4 498.7 L848.9 503.3 L852.6 501.5 L858.2 508 L863.8 515.5 L869.4 521.1 L875 525.8 L880.6 526.7 L885.3 530.4 L887.1 536 L891.8 542.6 L887.1 550 L890.9 554.7 L891.8 564 L889.9 569.6 L891.8 575.2 L886.2 580.8 L878.7 583.6 L869.4 585.5 L863.8 588.3 L859.1 593.9 L850.7 599.5 L841.4 601.4 L832 600.4 L824.6 595.8 L817.1 594.8 L809.6 598.6 L802.2 599.5 L794.7 593.9 L787.2 592 L789.4 591.5 L781.9 590 L777.4 593.8 L775.2 598.3 L777.4 604.2 L774.4 608 L767 609.5 L758 608 L750.5 604.2 L744.6 602.7 L737.1 606.5 L729.6 611 L723.7 614.7 L717.7 616.9 L713.2 613.2 L705.7 612.5 L699.8 605.7 L695.3 600.5 L689.3 601.2 L683.3 599 L675.9 595.3 L671.4 583.3 L668.4 574.4 L662.4 566.1 L654.9 567.6 L646 568.4 L642.2 562.2 L638.4 558.4 L636.6 550 L638.4 545.4 L642.2 539.8 L641.2 532.3 L645 524.8 L647.8 528.6 L653.4 530.4 L660.8 527.6 L666.4 523 L672 517.3 L675.8 512.7 L681.4 512.7 L690.7 514.5 L700.1 514.5 L709.4 512.7 L713.1 508 L709.4 502.4 L711.3 493.1 L715 485.6 L714.1 480 L712 478.9 L707.4 471.4 L708.3 463.9 L705.5 456.4 L706.4 449 L704.6 441.5 L699 437.8 L698 430.3 L702.7 422.8Z" fill="#f5a416" stroke="#f5a416" stroke-width="0.6"/>
<path d="M651.4 432.2 L652 427.9 L655.3 431.2 L658.6 435.6 L661.4 438.4 L663 433.4 L660.6 426.8 L661.9 422.4 L664.1 418 L664.3 412.5 L668.5 410.3 L672.4 405.9 L674 400.4 L678.4 399.3 L682.6 401.3 L684.1 404.8 L683.7 410.1 L687.2 411.2 L690.3 408.7 L691.6 411.4 L697.1 412 L701.5 413.8 L701.8 415.4 L702.7 422.8 L698 430.3 L699 437.8 L704.6 441.5 L706.4 449 L705.5 456.4 L708.3 463.9 L707.4 471.4 L712 478.9 L714.1 480 L715 485.6 L711.3 493.1 L709.4 502.4 L713.1 508 L709.4 512.7 L700.1 514.5 L690.7 514.5 L681.4 512.7 L675.8 512.7 L672 517.3 L666.4 523 L660.8 527.6 L653.4 530.4 L647.8 528.6 L645 524.8 L641.2 532.3 L642.2 539.8 L638.4 545.4 L636.6 550 L631 548.2 L621.6 549.1 L612.3 548.2 L603 549.1 L593.6 547.2 L588 546.3 L587.1 551.9 L582.4 553.8 L578.7 557.5 L574.9 553.8 L570.3 552.8 L570.9 552.2 L575.6 544.7 L580.3 540 L574.7 535.4 L573.7 529.8 L583.1 526 L579.3 524.2 L581.2 518.6 L586.8 512 L592.4 507.3 L597.1 502.7 L596.1 496.1 L601.7 490.5 L607.3 483.1 L611.1 477.5 L609.3 478.9 L613.1 471.4 L618.7 462 L624.3 456.4 L635.5 452.7 L643 449 L650.4 441.5Z" fill="#0a8fdc" stroke="#0a8fdc" stroke-width="0.6"/>
<path d="M481.1 438.8 L478.8 441.1 L475.9 444.1 L472.1 440.3 L470.6 434.4 L471.4 428.4 L475.9 422.4 L483.3 417.2 L490.8 415.7 L499.8 414.9 L499 409 L496.8 406.7 L505.7 405.2 L514.7 403 L519.6 402.3 L525.2 396.7 L530.8 390.1 L533.8 385.8 L537.7 382.9 L540.6 378.1 L543.5 374.2 L547.3 373.3 L550.7 372.8 L551.7 368.5 L552.6 364.6 L557.9 361.7 L561.8 361.3 L566.1 363.2 L568.5 365.6 L570.4 369.4 L572.8 376.2 L574.8 382.9 L575.7 388.7 L577.2 395.4 L575.7 401.2 L571.4 404.6 L566.6 405.5 L562.7 404.1 L559.4 400.7 L556.5 395.9 L554.1 389.6 L553.1 383.9 L551.9 382.2 L550.5 383.9 L550.2 390.6 L548.5 397.3 L544.4 401.2 L542.5 406 L543.3 411.8 L546.2 416.6 L548.8 417.8 L549.5 412.7 L548.8 407.9 L550.7 405.8 L552.6 408.9 L553.6 413.7 L557.9 418 L560.8 416.6 L561.8 411.8 L565.6 410.3 L574.3 410.3 L575.7 416.6 L581 414.7 L583.9 408.9 L586.8 405 L589.7 397.8 L594 404.1 L593.5 409.9 L588.7 411.8 L587.7 416.6 L592.6 417.6 L596.4 414.7 L601.2 413.9 L607 414.5 L607.5 415.4 L614.9 414.4 L616.8 419.1 L624.3 421 L632.7 424.7 L634.5 427.5 L640.1 423.8 L641.5 417.2 L638.3 409.8 L640.1 409.8 L643.9 417.2 L646.7 419.1 L652.3 424.7 L651.4 432.2 L650.4 441.5 L643 449 L635.5 452.7 L624.3 456.4 L618.7 462 L613.1 471.4 L609.3 478.9 L611.1 477.5 L607.3 479.3 L601.7 478.4 L592.4 476.9 L584.9 474.7 L577.4 473.2 L570 475.4 L564 477.7 L561 476.2 L562.5 470.2 L564 464.2 L561.8 460.5 L558 462.7 L554.3 465.7 L552 473.2 L549.1 469.5 L543.1 468 L537.1 464.2 L531.1 461.2 L525.2 459.8 L522.2 453.8 L516.2 450.8 L510.2 446.3 L504.2 444.1 L499.8 441.1 L492.3 442.6 L484.8 441.8Z" fill="#e0360f" stroke="#e0360f" stroke-width="0.6"/>
<path d="M492.5 514.8 L497.2 509.2 L499.8 504.6 L502.7 498.6 L507.2 495.6 L508.7 489.6 L513.2 485.2 L519.2 481.4 L526.6 477.7 L535.6 476.2 L544.6 474.7 L552 473.2 L554.3 465.7 L558 462.7 L561.8 460.5 L564 464.2 L562.5 470.2 L561 476.2 L564 477.7 L570 475.4 L577.4 473.2 L584.9 474.7 L592.4 476.9 L601.7 478.4 L607.3 479.3 L611.1 477.5 L607.3 483.1 L601.7 490.5 L596.1 496.1 L597.1 502.7 L592.4 507.3 L586.8 512 L581.2 518.6 L579.3 524.2 L583.1 526 L573.7 529.8 L574.7 535.4 L580.3 540 L575.6 544.7 L570.9 552.2 L575.6 557.8 L577.5 563.4 L580.3 567.1 L577.5 569.9 L570 568 L564.4 562.4 L556.9 557.8 L549.5 552.2 L542 546.6 L534.5 541 L527 539.1 L519.6 540 L512.1 541.9 L509.3 535.4 L506.5 535.4 L504.6 531.6 L500.9 525.1 L497.2 519.5Z" fill="#77b41b" stroke="#77b41b" stroke-width="0.6"/>
<path d="M481.1 438.8 L484.8 441.8 L492.3 442.6 L499.8 441.1 L504.2 444.1 L510.2 446.3 L516.2 450.8 L522.2 453.8 L525.2 459.8 L531.1 461.2 L537.1 464.2 L543.1 468 L549.1 469.5 L552 473.2 L544.6 474.7 L535.6 476.2 L526.6 477.7 L519.2 481.4 L513.2 485.2 L508.7 489.6 L507.2 495.6 L502.7 498.6 L499.8 504.6 L497.2 509.2 L492.5 514.8 L484.1 514.8 L476.6 518.6 L472.9 516.7 L468.2 509.2 L465.4 501.7 L459.8 496.1 L458.9 490.5 L462.6 483.1 L461.7 475.6 L455.1 470 L454.9 467.2 L460.9 463.5 L465.4 459.8 L466.9 452.3 L471.4 447.8 L477.3 444.8Z" fill="#e2357d" stroke="#e2357d" stroke-width="0.6"/>
<path d="M426.2 522.3 L433.7 522.3 L432.7 531.6 L437.4 534.4 L448.6 531.6 L451.4 526 L461.7 524.2 L467.3 519.5 L476.6 518.6 L484.1 514.8 L492.5 514.8 L497.2 519.5 L500.9 525.1 L504.6 531.6 L506.5 535.4 L500.9 539.1 L493.4 542.8 L491.6 548.4 L497.2 555.9 L498.1 563.4 L495.3 570.8 L486 570.8 L478.5 574.6 L474.8 569 L469.2 559.6 L465.4 552.2 L459.8 547.5 L452.3 546.6 L449.5 554 L444.9 559.6 L439.3 561.5 L435.5 555.9 L435.5 546.6 L431.8 541 L432.7 533.5 L428.1 529.8Z" fill="#0c5d57" stroke="#0c5d57" stroke-width="0.6"/>
<path d="M439.3 561.5 L444.9 559.6 L449.5 554 L452.3 546.6 L459.8 547.5 L465.4 552.2 L469.2 559.6 L474.8 569 L474.8 578.3 L476.6 585.8 L472.9 593.2 L471 600.7 L465.4 603.5 L461.7 597 L459.8 589.5 L455.1 583.9 L448.6 576.4 L443 569Z" fill="#b03c9f" stroke="#b03c9f" stroke-width="0.6"/>
<path d="M625.8 388.8 L630.8 386 L636.4 381.4 L642 375.8 L649.5 370.2 L656 367.4 L665.4 365.5 L674.7 364.2 L680.3 361.6 L684 361.2 L685.9 363.4 L685 367.2 L680.3 370.5 L674.7 372 L665.4 374.3 L656 377.5 L648.9 381.7 L644.1 386.8 L639.6 392.4 L636.8 398 L636.6 405.5 L632.1 404.5 L628.4 398 L626.5 392Z" fill="#e0360f" />
<path d="M431.3 408.4 L434.4 407.1 L437.7 408.1 L440.4 410.1 L442.7 412.7 L443.5 416.5 L442.2 418.7 L440 419.9 L437.4 417.2 L434.7 412.7Z" fill="#e0360f" />
<path d="M975 477 L983 482.6 L989.4 490.6 L999 497 L1010.2 503.4 L1011 502.2 L1007 504.6 L1009.4 511 L1011.8 517.4 L1018.2 521.3 L1024.5 521.3 L1026.9 523.7 L1020.5 526.1 L1022.1 533.3 L1015 526.9 L1008.6 520.5 L1000.6 512.6 L992.6 504.6 L991 500.2 L984.6 493.8 L978.2 485.8Z" fill="#0a8a26" />
<path d="M735.6 330.9 L739.3 326.7 L743.8 330.1 L744.6 336.1 L740.8 339.1 L737.1 338.3 L735.6 334.6Z" fill="#f5a416" />
<path d="M733.4 339.8 L738.6 339.1 L744.6 337.6 L749.1 341.3 L749.8 347.3 L746.8 350.3 L741.6 348 L737.1 345 L733.8 342.1Z" fill="#f5a416" />
<path d="M752.8 344 L758 346.5 L761.8 351 L759.5 354 L754.3 355.5 L750.8 357.7 L751.3 351.8 L752 347.3Z" fill="#f5a416" />
<path d="M834.2 341.4 L839.8 338.9 L845.4 335.8 L850 336.7 L849.5 341.4 L845.4 346 L840.7 350.7 L836 348.8 L833.8 345.1Z" fill="#0a8a26" />
<path d="M851.9 332 L856.6 329.6 L862.2 327.9 L863.1 331.1 L859.4 333.9 L853.8 335.2Z" fill="#0a8a26" />
<path d="M852.8 352.6 L856.6 350.7 L860.3 352 L859.4 355 L854.7 355.7Z" fill="#0a8a26" />
<ellipse cx="930.5" cy="274" rx="2.7" ry="5" fill="#0a8a26"/>
<ellipse cx="607" cy="404.6" rx="3.3" ry="2.8" fill="#e0360f"/>
<path d="M481.1 438.8 L484.8 441.8 L492.3 442.6 L499.8 441.1 L504.2 444.1 L510.2 446.3 L516.2 450.8 L522.2 453.8 L525.2 459.8 L531.1 461.2 L537.1 464.2 L543.1 468 L549.1 469.5 L552 473.2 L544.6 474.7 L535.6 476.2 L526.6 477.7 L519.2 481.4 L513.2 485.2 L508.7 489.6 L507.2 495.6 L502.7 498.6 L499.8 504.6 L497.2 509.2 L492.5 514.8 L484.1 514.8 L476.6 518.6" fill="none" stroke="#f6c3b4" stroke-width="0.8" stroke-opacity="0.85"/>
<ellipse cx="664.6" cy="311.7" rx="2.69" ry="1.34" fill="#c94a2c"/>
<ellipse cx="669.1" cy="314.4" rx="3.14" ry="1.57" fill="#c94a2c"/>
<ellipse cx="663.2" cy="315.9" rx="1.79" ry="1.34" fill="#c94a2c"/>
<ellipse cx="676.6" cy="323.4" rx="3.14" ry="1.57" fill="#c94a2c"/>
<ellipse cx="683.3" cy="322.6" rx="3.59" ry="1.57" fill="#c94a2c"/>
<ellipse cx="690.0" cy="322.2" rx="3.14" ry="1.34" fill="#c94a2c"/>
<ellipse cx="672.1" cy="311.1" rx="1.34" ry="0.90" fill="#8e9db8"/>
<ellipse cx="675.9" cy="318.9" rx="1.79" ry="0.90" fill="#8e9db8"/>
<ellipse cx="680.3" cy="315.2" rx="2.24" ry="1.12" fill="#8e9db8"/>
<ellipse cx="684.1" cy="313.7" rx="1.79" ry="0.90" fill="#8e9db8"/>
<ellipse cx="691.5" cy="314.9" rx="1.34" ry="1.12" fill="#8e9db8"/>
<ellipse cx="679.6" cy="327.6" rx="1.12" ry="0.90" fill="#8e9db8"/>
<ellipse cx="666.1" cy="320.4" rx="1.12" ry="1.12" fill="#8e9db8"/>
<ellipse cx="714.4" cy="329.7" rx="1.79" ry="1.12" fill="#8e9db8"/>
<ellipse cx="732.3" cy="328.2" rx="1.79" ry="1.12" fill="#8e9db8"/>
<ellipse cx="707.5" cy="341.6" rx="1.79" ry="1.12" fill="#8e9db8"/>
<ellipse cx="730.1" cy="366.7" rx="1.57" ry="1.12" fill="#8e9db8"/>
<ellipse cx="744.3" cy="367.8" rx="2.02" ry="1.34" fill="#8e9db8"/>
<ellipse cx="714.7" cy="378.2" rx="1.57" ry="0.90" fill="#8e9db8"/>
<ellipse cx="712.2" cy="384.2" rx="1.57" ry="1.79" fill="#8e9db8"/>
<ellipse cx="764.7" cy="353.7" rx="1.79" ry="1.12" fill="#8e9db8"/>
<ellipse cx="768.2" cy="361.5" rx="1.12" ry="0.90" fill="#8e9db8"/>
<ellipse cx="712.9" cy="395.8" rx="1.79" ry="1.12" fill="#8e9db8"/>
<ellipse cx="719.9" cy="392.4" rx="1.34" ry="1.79" fill="#8e9db8"/>
<ellipse cx="693.8" cy="398.1" rx="1.79" ry="1.12" fill="#8e9db8"/>
<ellipse cx="1046.9" cy="446.7" rx="0.96" ry="3.19" fill="#0a8a26"/>
<ellipse cx="1050.1" cy="457.1" rx="0.80" ry="0.80" fill="#0a8a26"/>
<ellipse cx="1057.3" cy="483.4" rx="0.64" ry="1.60" fill="#0a8a26"/>
<ellipse cx="1056.5" cy="498.6" rx="0.80" ry="2.40" fill="#0a8a26"/>
<ellipse cx="1056.5" cy="498.2" rx="0.80" ry="2.40" fill="#0a8a26"/>
<ellipse cx="1053.3" cy="515.0" rx="0.96" ry="2.87" fill="#0a8a26"/>
<ellipse cx="1050.1" cy="525.3" rx="0.80" ry="1.28" fill="#0a8a26"/>
<ellipse cx="1055.7" cy="526.1" rx="0.64" ry="0.64" fill="#0a8a26"/>
<ellipse cx="1007.8" cy="372.0" rx="0.96" ry="2.87" fill="#0a8a26"/>
<ellipse cx="1042.1" cy="379.2" rx="3.19" ry="0.96" fill="#0a8a26"/>
<ellipse cx="1047.7" cy="374.1" rx="1.60" ry="0.64" fill="#0a8a26"/>
<ellipse cx="932.8" cy="311.1" rx="5.98" ry="3.17" fill="#fff"/>
<ellipse cx="932.6" cy="311.5" rx="5.43" ry="2.55" fill="#fff"/>
<ellipse cx="932.3" cy="311.5" rx="5.71" ry="2.85" fill="#fff"/>
</g>
<path d="M685 408.3 L682.4 412.5 L681.5 418 L679.7 424.6 L678.4 431.2 L677.5 436.7 L679.5 441.1 L679.3 445.5 L676.2 449.9 L671.8 452.7" fill="none" stroke="#fff" stroke-width="3.9" stroke-linecap="round" stroke-linejoin="round"/>
<path d="M676.2 449.9 L671.8 452.7 L666.3 455.4 L661.9 454.5" fill="none" stroke="#fff" stroke-width="5" stroke-linecap="round" stroke-linejoin="round"/>
<path d="M681.7 438.4 L686.7 439.1 L689.4 443.3 L689.4 448.8 L691.6 452.7" fill="none" stroke="#fff" stroke-width="2" stroke-linecap="round" stroke-linejoin="round"/>
<path d="M690.5 412.5 L691.1 416.9 L693.8 419.7 L696.6 421.9" fill="none" stroke="#fff" stroke-width="2" stroke-linecap="round" stroke-linejoin="round"/>
<line x1="521" y1="389.2" x2="546.5" y2="420.8" stroke="#b9b9b9" stroke-width="0.8"/>
<circle cx="547" cy="421.3" r="3" fill="#b3b3b3"/>
<line x1="455.9" y1="453.5" x2="488" y2="461.2" stroke="#b9b9b9" stroke-width="0.8"/>
<circle cx="488.9" cy="461.4" r="3" fill="#b3b3b3"/>
<text x="427.3" y="382.4" font-size="11.6" fill="#111" font-weight="bold" text-anchor="start" textLength="102.6" lengthAdjust="spacingAndGlyphs" stroke="#111" stroke-width="0.25">Санкт-Петербург</text>
<text x="422.7" y="448.7" font-size="11.6" fill="#111" font-weight="bold" text-anchor="start" textLength="45.1" lengthAdjust="spacingAndGlyphs" stroke="#111" stroke-width="0.25">Москва</text>
<text x="571.5" y="443.8" font-size="11.6" fill="#111" font-weight="bold" text-anchor="start" textLength="38.3" lengthAdjust="spacingAndGlyphs" stroke="#111" stroke-width="0.25">СЗФО</text>
<text x="471.5" y="488.5" font-size="11.6" fill="#111" font-weight="bold" text-anchor="start" textLength="31.4" lengthAdjust="spacingAndGlyphs" stroke="#111" stroke-width="0.25">ЦФО</text>
<text x="530.4" y="512.1" font-size="11.6" fill="#111" font-weight="bold" text-anchor="start" textLength="31.4" lengthAdjust="spacingAndGlyphs" stroke="#111" stroke-width="0.25">ПФО</text>
<text x="639.6" y="487" font-size="11.6" fill="#111" font-weight="bold" text-anchor="start" textLength="32.2" lengthAdjust="spacingAndGlyphs" stroke="#111" stroke-width="0.25">УФО</text>
<text x="747.5" y="529.2" font-size="11.6" fill="#111" font-weight="bold" text-anchor="start" textLength="32.6" lengthAdjust="spacingAndGlyphs" stroke="#111" stroke-width="0.25">СФО</text>
<text x="865.3" y="444.3" font-size="11.6" fill="#111" font-weight="bold" text-anchor="start" textLength="33.4" lengthAdjust="spacingAndGlyphs" stroke="#111" stroke-width="0.25">ДФО</text>
<text x="463.6" y="539" font-size="11.6" fill="#111" font-weight="bold" text-anchor="start" textLength="34.7" lengthAdjust="spacingAndGlyphs" stroke="#111" stroke-width="0.25">ЮФО</text>
<text x="439.6" y="572" font-size="11.6" fill="#111" font-weight="bold" text-anchor="start" textLength="36.7" lengthAdjust="spacingAndGlyphs" stroke="#111" stroke-width="0.25">СКФО</text>
<text x="467.4" y="396" font-size="10.4" fill="#111" font-weight="normal" text-anchor="start" textLength="18.1" lengthAdjust="spacingAndGlyphs" stroke="#111" stroke-width="0.3">0%</text>
<text x="423.5" y="462.6" font-size="10.4" fill="#111" font-weight="normal" text-anchor="start" textLength="23.9" lengthAdjust="spacingAndGlyphs" stroke="#111" stroke-width="0.3">+5%</text>
<text x="579.1" y="457.1" font-size="10.4" fill="#111" font-weight="normal" text-anchor="start" textLength="22.4" lengthAdjust="spacingAndGlyphs" stroke="#111" stroke-width="0.3">-9%</text>
<text x="475.9" y="501.7" font-size="10.4" fill="#111" font-weight="normal" text-anchor="start" textLength="20.7" lengthAdjust="spacingAndGlyphs" stroke="#111" stroke-width="0.3">-9%</text>
<text x="535.8" y="525" font-size="10.4" fill="#111" font-weight="normal" text-anchor="start" textLength="21" lengthAdjust="spacingAndGlyphs" stroke="#111" stroke-width="0.3">+1%</text>
<text x="642.6" y="501.4" font-size="10.4" fill="#111" font-weight="normal" text-anchor="start" textLength="24.7" lengthAdjust="spacingAndGlyphs" stroke="#111" stroke-width="0.3">+1%</text>
<text x="751.8" y="543.2" font-size="10.4" fill="#111" font-weight="normal" text-anchor="start" textLength="23.6" lengthAdjust="spacingAndGlyphs" stroke="#111" stroke-width="0.3">+1%</text>
<text x="868" y="458.3" font-size="10.4" fill="#111" font-weight="normal" text-anchor="start" textLength="28.8" lengthAdjust="spacingAndGlyphs" stroke="#111" stroke-width="0.3">+12%</text>
<text x="467" y="550.9" font-size="10.4" fill="#111" font-weight="normal" text-anchor="start" textLength="21" lengthAdjust="spacingAndGlyphs" stroke="#111" stroke-width="0.3">+1%</text>
<text x="444.3" y="584.7" font-size="10.4" fill="#111" font-weight="normal" text-anchor="start" textLength="26.7" lengthAdjust="spacingAndGlyphs" stroke="#111" stroke-width="0.3">+19%</text>
</svg>
</body></html>
